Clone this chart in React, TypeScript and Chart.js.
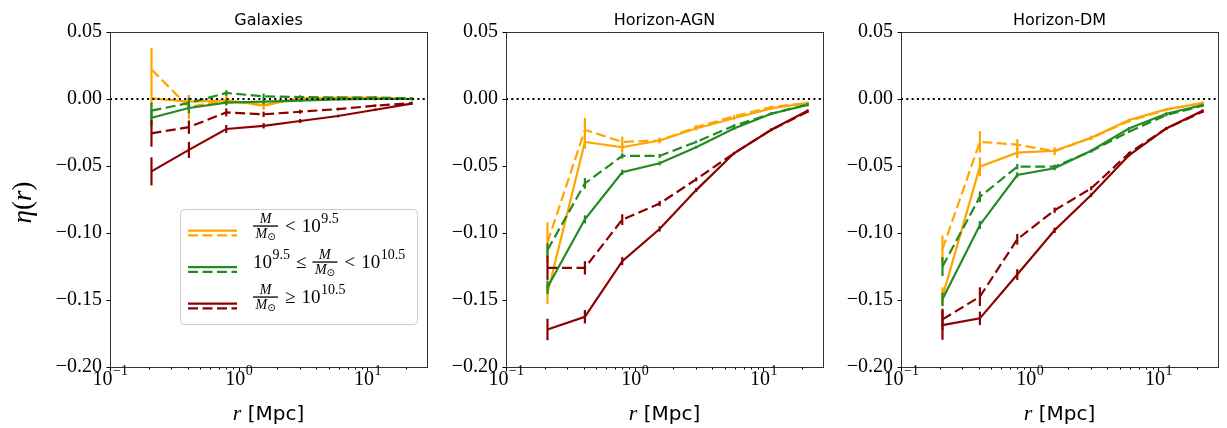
import React, { useEffect, useRef } from "react";
import { Chart, registerables } from "chart.js";

Chart.register(...registerables);

// ---------------- data ----------------
const radii = [0.21, 0.41, 0.8, 1.56, 3.0, 5.9, 11.5, 22];
const xRange = [0.1, 29];
const yRange = [-0.2, 0.05];
const yTickValues = [-0.2, -0.15, -0.1, -0.05, 0, 0.05];
const xMajorTickValues = [0.1, 1, 10];
const xMajorTickExponents = ["\u22121", "0", "1"];
const xMinorTickValues = [0.2, 0.3, 0.4, 0.5, 0.6, 0.7, 0.8, 0.9, 2, 3, 4, 5, 6, 7, 8, 9, 20];
const panelTitles = ["Galaxies", "Horizon-AGN", "Horizon-DM"];
const massBinColors = ["#ffa500", "#228b22", "#8b0000"];
const zeroLineY = 0;

// Galaxies
const galLowSolid = [0.0005, -0.002, -0.001, -0.0045, 0.0005, 0.001, 0.001, 0.0];
const galLowSolidErr = [0.006, 0.005, 0.003, 0.003, 0.002, 0.001, 0.001, 0.001];
const galLowDashed = [0.022, -0.006, -0.001, -0.005, 0.001, 0.001, 0.001, 0.0005];
const galLowDashedErr = [0.016, 0.009, 0.004, 0.003, 0.002, 0.001, 0.001, 0.001];
const galMidSolid = [-0.014, -0.0067, -0.0027, -0.002, -0.0012, -0.0003, 0.0, 0.0];
const galMidSolidErr = [0.006, 0.004, 0.002, 0.002, 0.001, 0.001, 0.001, 0.001];
const galMidDashed = [-0.0087, -0.003, 0.0045, 0.002, 0.0015, 0.001, 0.001, 0.0005];
const galMidDashedErr = [0.006, 0.004, 0.002, 0.002, 0.001, 0.001, 0.001, 0.001];
const galHighSolid = [-0.054, -0.038, -0.0224, -0.02, -0.0164, -0.0127, -0.008, -0.0035];
const galHighSolidErr = [0.0105, 0.006, 0.003, 0.002, 0.0015, 0.001, 0.001, 0.001];
const galHighDashed = [-0.0256, -0.021, -0.01, -0.0114, -0.0095, -0.0075, -0.005, -0.003];
const galHighDashedErr = [0.01, 0.005, 0.003, 0.002, 0.0015, 0.001, 0.001, 0.001];

// Horizon-AGN
const agnLowSolid = [-0.145, -0.032, -0.036, -0.031, -0.022, -0.0144, -0.007, -0.003];
const agnLowSolidErr = [0.008, 0.005, 0.004, 0.002, 0.0015, 0.001, 0.001, 0.001];
const agnLowDashed = [-0.107, -0.023, -0.032, -0.031, -0.021, -0.013, -0.006, -0.003];
const agnLowDashedErr = [0.015, 0.009, 0.004, 0.002, 0.0015, 0.001, 0.001, 0.001];
const agnMidSolid = [-0.1405, -0.0898, -0.0547, -0.048, -0.036, -0.022, -0.011, -0.0045];
const agnMidSolidErr = [0.005, 0.003, 0.002, 0.0015, 0.001, 0.001, 0.001, 0.001];
const agnMidDashed = [-0.1127, -0.063, -0.0425, -0.0425, -0.032, -0.02, -0.011, -0.004];
const agnMidDashedErr = [0.005, 0.004, 0.002, 0.0015, 0.001, 0.001, 0.001, 0.001];
const agnHighSolid = [-0.172, -0.1625, -0.121, -0.097, -0.068, -0.0405, -0.023, -0.0087];
const agnHighSolidErr = [0.008, 0.005, 0.003, 0.002, 0.0015, 0.001, 0.001, 0.001];
const agnHighDashed = [-0.126, -0.126, -0.09, -0.078, -0.06, -0.0405, -0.023, -0.0095];
const agnHighDashedErr = [0.009, 0.005, 0.004, 0.002, 0.0015, 0.001, 0.001, 0.001];

// Horizon-DM
const dmLowSolid = [-0.1475, -0.0505, -0.04, -0.0386, -0.029, -0.0157, -0.0077, -0.003];
const dmLowSolidErr = [0.007, 0.007, 0.004, 0.002, 0.0015, 0.001, 0.001, 0.001];
const dmLowDashed = [-0.112, -0.032, -0.034, -0.039, -0.029, -0.0165, -0.008, -0.003];
const dmLowDashedErr = [0.01, 0.008, 0.004, 0.003, 0.0015, 0.001, 0.001, 0.001];
const dmMidSolid = [-0.1495, -0.094, -0.0567, -0.0517, -0.0386, -0.022, -0.011, -0.0045];
const dmMidSolidErr = [0.005, 0.003, 0.002, 0.0015, 0.001, 0.001, 0.001, 0.001];
const dmMidDashed = [-0.125, -0.073, -0.0505, -0.0505, -0.039, -0.0244, -0.012, -0.005];
const dmMidDashedErr = [0.007, 0.004, 0.002, 0.0015, 0.001, 0.001, 0.001, 0.001];
const dmHighSolid = [-0.1687, -0.1637, -0.131, -0.098, -0.0716, -0.042, -0.022, -0.0087];
const dmHighSolidErr = [0.011, 0.005, 0.004, 0.002, 0.0015, 0.001, 0.001, 0.001];
const dmHighDashed = [-0.1645, -0.1475, -0.1047, -0.083, -0.0667, -0.0405, -0.022, -0.0095];
const dmHighDashedErr = [0.008, 0.007, 0.004, 0.002, 0.0015, 0.001, 0.001, 0.001];

type Series = { values: number[]; errors: number[]; bin: number; dashed: boolean };

const panelSeries: Series[][] = [
  [
    { values: galLowSolid, errors: galLowSolidErr, bin: 0, dashed: false },
    { values: galLowDashed, errors: galLowDashedErr, bin: 0, dashed: true },
    { values: galMidSolid, errors: galMidSolidErr, bin: 1, dashed: false },
    { values: galMidDashed, errors: galMidDashedErr, bin: 1, dashed: true },
    { values: galHighSolid, errors: galHighSolidErr, bin: 2, dashed: false },
    { values: galHighDashed, errors: galHighDashedErr, bin: 2, dashed: true },
  ],
  [
    { values: agnLowSolid, errors: agnLowSolidErr, bin: 0, dashed: false },
    { values: agnLowDashed, errors: agnLowDashedErr, bin: 0, dashed: true },
    { values: agnMidSolid, errors: agnMidSolidErr, bin: 1, dashed: false },
    { values: agnMidDashed, errors: agnMidDashedErr, bin: 1, dashed: true },
    { values: agnHighSolid, errors: agnHighSolidErr, bin: 2, dashed: false },
    { values: agnHighDashed, errors: agnHighDashedErr, bin: 2, dashed: true },
  ],
  [
    { values: dmLowSolid, errors: dmLowSolidErr, bin: 0, dashed: false },
    { values: dmLowDashed, errors: dmLowDashedErr, bin: 0, dashed: true },
    { values: dmMidSolid, errors: dmMidSolidErr, bin: 1, dashed: false },
    { values: dmMidDashed, errors: dmMidDashedErr, bin: 1, dashed: true },
    { values: dmHighSolid, errors: dmHighSolidErr, bin: 2, dashed: false },
    { values: dmHighDashed, errors: dmHighDashedErr, bin: 2, dashed: true },
  ],
];

type Tok = { k: "n" | "sup" | "rel" | "frac"; s?: string };
const legendLabelTokens: Tok[][] = [
  [{ k: "frac" }, { k: "rel", s: "<" }, { k: "n", s: "10" }, { k: "sup", s: "9.5" }],
  [
    { k: "n", s: "10" },
    { k: "sup", s: "9.5" },
    { k: "rel", s: "\u2264" },
    { k: "frac" },
    { k: "rel", s: "<" },
    { k: "n", s: "10" },
    { k: "sup", s: "10.5" },
  ],
  [{ k: "frac" }, { k: "rel", s: "\u2265" }, { k: "n", s: "10" }, { k: "sup", s: "10.5" }],
];

// ---------------- styling ----------------
const SERIF = '"Liberation Serif", "DejaVu Serif", serif';
const SANS = '"DejaVu Sans", sans-serif';
const LINE_W = 2.2;
const DASH = [10, 4.5];
const CANVAS_W = 436;
const CANVAS_H = 428;
const PANEL_LEFTS = [0, 396, 791];

function fmtY(v: number) {
  if (Math.abs(v) < 1e-9) return "0.00";
  const s = Math.abs(v).toFixed(2);
  return v < 0 ? "\u2212" + s : s;
}

function drawMath(ctx: CanvasRenderingContext2D, toks: Tok[], x: number, baseline: number) {
  let cx = x;
  ctx.fillStyle = "#000";
  ctx.textAlign = "left";
  ctx.textBaseline = "alphabetic";
  for (const t of toks) {
    if (t.k === "n") {
      ctx.font = `19px ${SERIF}`;
      ctx.fillText(t.s!, cx, baseline);
      cx += ctx.measureText(t.s!).width;
    } else if (t.k === "sup") {
      ctx.font = `14px ${SERIF}`;
      ctx.fillText(t.s!, cx + 0.5, baseline - 9);
      cx += ctx.measureText(t.s!).width + 0.5;
    } else if (t.k === "rel") {
      ctx.font = `19px ${SERIF}`;
      cx += 6;
      ctx.fillText(t.s!, cx, baseline);
      cx += ctx.measureText(t.s!).width + 6;
    } else {
      const w = 25;
      const axis = baseline - 6;
      ctx.font = `italic 14px ${SERIF}`;
      const mw = ctx.measureText("M").width;
      ctx.fillText("M", cx + (w - mw) / 2, axis - 2.7);
      ctx.fillRect(cx, axis - 0.6, w, 1.3);
      ctx.font = `10px "DejaVu Sans", ${SERIF}`;
      const sw = ctx.measureText("\u2299").width;
      const start = cx + (w - (mw + sw)) / 2;
      ctx.font = `italic 14px ${SERIF}`;
      ctx.fillText("M", start, axis + 12);
      ctx.font = `10px "DejaVu Sans", ${SERIF}`;
      ctx.fillText("\u2299", start + mw, axis + 14);
      cx += w + 1;
    }
  }
}

function drawLegend(ctx: CanvasRenderingContext2D) {
  const bx = 180.5, by = 209.5, bw = 237, bh = 115, r = 4;
  ctx.save();
  ctx.beginPath();
  ctx.moveTo(bx + r, by);
  ctx.arcTo(bx + bw, by, bx + bw, by + bh, r);
  ctx.arcTo(bx + bw, by + bh, bx, by + bh, r);
  ctx.arcTo(bx, by + bh, bx, by, r);
  ctx.arcTo(bx, by, bx + bw, by, r);
  ctx.closePath();
  ctx.fillStyle = "rgba(255,255,255,0.8)";
  ctx.fill();
  ctx.strokeStyle = "#cccccc";
  ctx.lineWidth = 1;
  ctx.stroke();
  const baselines = [232, 268, 303];
  const handleCenters = [233, 269.5, 306];
  for (let i = 0; i < 3; i++) {
    const yc = handleCenters[i];
    ctx.strokeStyle = massBinColors[i];
    ctx.lineWidth = LINE_W;
    ctx.setLineDash([]);
    ctx.beginPath();
    ctx.moveTo(188, yc - 2.3);
    ctx.lineTo(237, yc - 2.3);
    ctx.stroke();
    ctx.setLineDash(DASH);
    ctx.beginPath();
    ctx.moveTo(188, yc + 2.3);
    ctx.lineTo(237, yc + 2.3);
    ctx.stroke();
    ctx.setLineDash([]);
    drawMath(ctx, legendLabelTokens[i], 253, baselines[i]);
  }
  ctx.restore();
}

function makeDecor(panel: number) {
  return {
    id: "decor" + panel,
    afterDatasetDraw(chart: any, args: any) {
      const ds = chart.data.datasets[args.index];
      const errs: number[] | undefined = ds.errors;
      if (!errs) return;
      const xs = chart.scales.x;
      const ys = chart.scales.y;
      const ctx = chart.ctx as CanvasRenderingContext2D;
      ctx.save();
      ctx.strokeStyle = ds.borderColor;
      ctx.lineWidth = LINE_W;
      ctx.setLineDash([]);
      ds.data.forEach((p: any, i: number) => {
        const x = xs.getPixelForValue(p.x);
        ctx.beginPath();
        ctx.moveTo(x, ys.getPixelForValue(p.y - errs[i]));
        ctx.lineTo(x, ys.getPixelForValue(p.y + errs[i]));
        ctx.stroke();
      });
      ctx.restore();
    },
    afterDraw(chart: any) {
      const ctx = chart.ctx as CanvasRenderingContext2D;
      const ca = chart.chartArea;
      const xs = chart.scales.x;
      const ys = chart.scales.y;
      ctx.save();
      // frame
      ctx.strokeStyle = "#333";
      ctx.lineWidth = 1;
      ctx.setLineDash([]);
      ctx.strokeRect(ca.left + 0.5, ca.top + 0.5, ca.right - ca.left, ca.bottom - ca.top);
      // tick marks
      ctx.strokeStyle = "#000";
      ctx.lineWidth = 1;
      ctx.beginPath();
      yTickValues.forEach((v) => {
        const y = Math.round(ys.getPixelForValue(v)) + 0.5;
        ctx.moveTo(ca.left + 0.5, y);
        ctx.lineTo(ca.left - 3.5, y);
      });
      xMajorTickValues.forEach((v) => {
        const x = Math.round(xs.getPixelForValue(v)) + 0.5;
        ctx.moveTo(x, ca.bottom + 0.5);
        ctx.lineTo(x, ca.bottom + 4.5);
      });
      xMinorTickValues.forEach((v) => {
        const x = Math.round(xs.getPixelForValue(v)) + 0.5;
        ctx.moveTo(x, ca.bottom + 0.5);
        ctx.lineTo(x, ca.bottom + 2.5);
      });
      ctx.stroke();
      // x tick labels
      ctx.fillStyle = "#000";
      ctx.textBaseline = "alphabetic";
      ctx.textAlign = "left";
      xMajorTickValues.forEach((v, i) => {
        const x = xs.getPixelForValue(v);
        ctx.font = `20px ${SERIF}`;
        const bw = ctx.measureText("10").width;
        ctx.font = `14px ${SERIF}`;
        const ew = ctx.measureText(xMajorTickExponents[i]).width;
        const start = x - (bw + ew) / 2;
        ctx.font = `20px ${SERIF}`;
        ctx.fillText("10", start, 385);
        ctx.font = `14px ${SERIF}`;
        ctx.fillText(xMajorTickExponents[i], start + bw + 0.5, 375);
      });
      // x axis label
      const cx = (ca.left + ca.right) / 2;
      ctx.font = `italic 22px ${SERIF}`;
      const rw = ctx.measureText("r").width;
      ctx.font = `20px ${SANS}`;
      const mw = ctx.measureText(" [Mpc]").width;
      const sx = cx - (rw + mw) / 2;
      ctx.font = `italic 22px ${SERIF}`;
      ctx.fillText("r", sx, 420);
      ctx.font = `20px ${SANS}`;
      ctx.fillText(" [Mpc]", sx + rw, 420);
      // title
      ctx.font = `16px ${SANS}`;
      ctx.textAlign = "center";
      ctx.fillText(panelTitles[panel], cx, 25);
      ctx.textAlign = "left";
      if (panel === 0) {
        // y label
        ctx.save();
        ctx.translate(31, (ca.top + ca.bottom) / 2 + 3);
        ctx.rotate(-Math.PI / 2);
        const parts: [string, string][] = [
          ["\u03b7", `italic 27px ${SERIF}`],
          ["(", `27px ${SERIF}`],
          ["r", `italic 27px ${SERIF}`],
          [")", `27px ${SERIF}`],
        ];
        let tw = 0;
        parts.forEach(([s, f]) => {
          ctx.font = f;
          tw += ctx.measureText(s).width;
        });
        let px = -tw / 2;
        parts.forEach(([s, f]) => {
          ctx.font = f;
          ctx.fillText(s, px, 0);
          px += ctx.measureText(s).width;
        });
        ctx.restore();
        drawLegend(ctx);
      }
      ctx.restore();
    },
  };
}

function Panel({ index }: { index: number }) {
  const ref = useRef<HTMLCanvasElement | null>(null);
  useEffect(() => {
    if (!ref.current) return;
    const series = panelSeries[index];
    const lineSets = series
      .map((s) => ({
        label: "",
        data: radii.map((x, i) => ({ x, y: s.values[i] })),
        errors: s.errors,
        borderColor: massBinColors[s.bin],
        backgroundColor: massBinColors[s.bin],
        borderWidth: LINE_W,
        borderDash: s.dashed ? DASH : [],
        pointRadius: 0,
        tension: 0,
        fill: false,
      }))
      .reverse();
    const zeroSet = {
      label: "",
      data: xRange.map((x) => ({ x, y: zeroLineY })),
      borderColor: "#000",
      backgroundColor: "#000",
      borderWidth: 2,
      borderDash: [2, 3.3],
      pointRadius: 0,
      fill: false,
    };
    const chart = new Chart(ref.current, {
      type: "line",
      data: { datasets: [zeroSet as any, ...(lineSets as any)] },
      options: {
        responsive: false,
        animation: false,
        devicePixelRatio: 1,
        layout: { padding: { top: 32, right: 9, bottom: 61, left: 0 } },
        plugins: { legend: { display: false }, tooltip: { enabled: false }, title: { display: false } },
        scales: {
          x: { type: "logarithmic", min: xRange[0], max: xRange[1], display: false },
          y: {
            type: "linear",
            min: yRange[0],
            max: yRange[1],
            afterBuildTicks: (scale: any) => {
              scale.ticks = yTickValues.map((v) => ({ value: v }));
            },
            afterFit: (scale: any) => {
              scale.width = 110;
            },
            grid: { display: false, drawTicks: false },
            border: { display: false },
            ticks: {
              padding: 8,
              color: "#000",
              font: { family: SERIF, size: 20 },
              callback: (v: any) => fmtY(Number(v)),
            },
          },
        },
      },
      plugins: [makeDecor(index)],
    });
    return () => chart.destroy();
  }, [index]);
  return (
    <canvas
      ref={ref}
      width={CANVAS_W}
      height={CANVAS_H}
      style={{ position: "absolute", left: PANEL_LEFTS[index], top: 0, width: CANVAS_W, height: CANVAS_H }}
    />
  );
}

export default function App() {
  return (
    <div style={{ position: "absolute", left: 0, top: 0, width: 1227, height: 428, background: "#fff", overflow: "hidden" }}>
      <Panel index={0} />
      <Panel index={1} />
      <Panel index={2} />
    </div>
  );
}
